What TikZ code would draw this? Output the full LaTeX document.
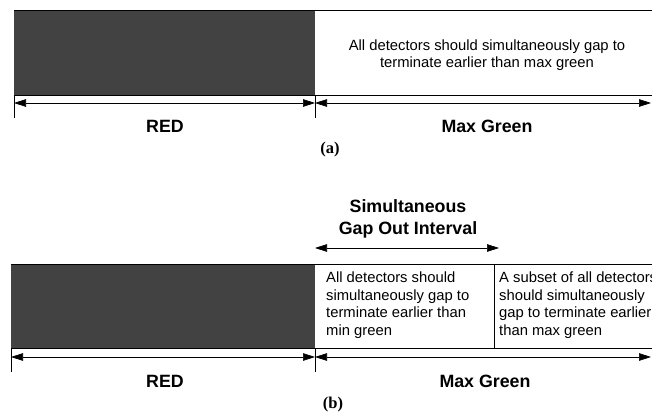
\documentclass[tikz,border=0pt]{standalone}
\usepackage{fontspec}
\setmainfont{Liberation Sans}
\newfontfamily\serifcap{Liberation Serif}
\usetikzlibrary{positioning,arrows.meta}
\tikzset{linea/.style={line width=0.6pt}}
\tikzset{cota/.style={line width=0.6pt, {Triangle[length=12pt,width=7.5pt]}-{Triangle[length=12pt,width=7.5pt]}}}
\tikzset{oscuro/.style={fill=black!74}}
\tikzset{texto/.style={inner sep=0pt, font=\fontsize{14.8}{17.5}\selectfont}}
\tikzset{etiqueta/.style={inner sep=0pt, font=\fontsize{17.8}{22}\selectfont\bfseries}}
\tikzset{panel/.style={inner sep=0pt, font=\serifcap\fontsize{16.5}{18}\selectfont\bfseries}}

\begin{document}
\begin{tikzpicture}[x=1pt, y=-1pt]
            \clip (0,0) rectangle (652,412);
            % (a)
            \coordinate (anw) at (14,10);
            \coordinate (ane) at (652,10);
            \coordinate (asep) at (315,95);
            \coordinate (ase) at (652,95);
            \coordinate (asw) at (14,95);
            \coordinate (al) at (14,103);
            \coordinate (am) at (315,103);
            \coordinate (ar) at (651,103);
            \coordinate (alt) at (14,118);
            \coordinate (amt) at (315,118);
            \fill[oscuro] (anw) rectangle (asep);
            \draw[linea] (anw) -- (ane);
            \draw[linea] (asw) -- (ase);
            \draw[linea] (asw) -- (alt);
            \draw[linea] (asep) -- (amt);
            \draw[cota] (al) -- (am);
            \draw[cota] (am) -- (ar);
            \node[texto, align=center] (txta) at (487,55) {All detectors should simultaneously gap to\\terminate earlier than max green};
            \node[etiqueta] (reda) at (165,126) {RED};
            \node[etiqueta] (greena) at (487,126) {Max Green};
            \node[panel] (capa) at (330,150) {(a)};

            % (b)
            \coordinate (bnw) at (11,264);
            \coordinate (bne) at (652,264);
            \coordinate (bsep) at (315,348);
            \coordinate (bse) at (652,348);
            \coordinate (bsw) at (11,348);
            \coordinate (bdt) at (494,264);
            \coordinate (bdb) at (494,348);
            \coordinate (bl) at (11,357);
            \coordinate (bm) at (315,357);
            \coordinate (br) at (651,357);
            \coordinate (blt) at (11,372);
            \coordinate (bmt) at (315,372);
            \coordinate (gi) at (315,248);
            \coordinate (gf) at (499,248);
            \fill[oscuro] (bnw) rectangle (bsep);
            \draw[linea] (bnw) -- (bne);
            \draw[linea] (bsw) -- (bse);
            \draw[linea] (bdt) -- (bdb);
            \draw[linea] (bsw) -- (blt);
            \draw[linea] (bsep) -- (bmt);
            \draw[cota] (bl) -- (bm);
            \draw[cota] (bm) -- (br);
            \draw[cota] (gi) -- (gf);
            \node[etiqueta, align=center] (gap) at (408,219) {Simultaneous\\Gap Out Interval};
            \node[texto, align=left, anchor=north west] (txtb1) at (326,272) {All detectors should\\simultaneously gap to\\terminate earlier than\\min green};
            \node[texto, align=left, anchor=north west] (txtb2) at (499,272) {A subset of all detectors\\should simultaneously\\gap to terminate earlier\\than max green};
            \node[etiqueta] (redb) at (165,381) {RED};
            \node[etiqueta] (greenb) at (485,381) {Max Green};
            \node[panel] (capb) at (333,405) {(b)};
        \end{tikzpicture}
\end{document}
